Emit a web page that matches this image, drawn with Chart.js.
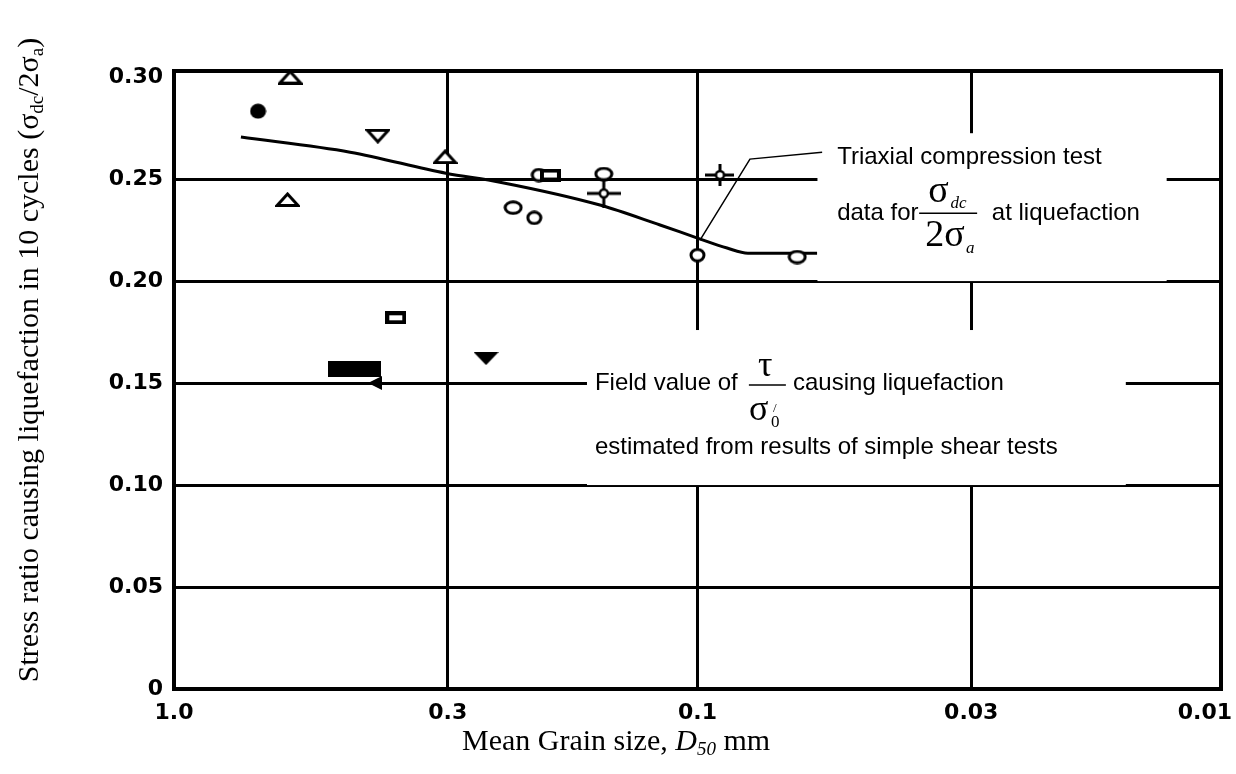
<!DOCTYPE html>
<html>
<head>
<meta charset="utf-8">
<title>Stress ratio causing liquefaction vs mean grain size</title>
<script src="https://cdn.jsdelivr.net/npm/chart.js@4.4.1/dist/chart.umd.min.js"></script>
<style>
  html, body { margin: 0; padding: 0; background: #fff; }
  #chart { display: block; }
</style>
</head>
<body>
<canvas id="chart" width="1236" height="774"></canvas>
<script>
// axis ticks (grain size runs from coarse to fine)
const xTicks = [1.0, 0.3, 0.1, 0.03, 0.01];
const xTickLabels = ['1.0', '0.3', '0.1', '0.03', '0.01'];
const yTicks = [0, 0.05, 0.10, 0.15, 0.20, 0.25, 0.30];
const yTickLabels = ['0', '0.05', '0.10', '0.15', '0.20', '0.25', '0.30'];

// trend curve through the triaxial results
const curveX = [0.745, 0.461, 0.3025, 0.2384, 0.1536, 0.1179, 0.1, 0.0878, 0.0801, 0.0591];
const curveY = [0.2706, 0.2632, 0.2529, 0.2485, 0.2373, 0.2275, 0.2211, 0.2162, 0.2137, 0.2137];

// test results, one pair of arrays per symbol
const dotX = [0.691];
const dotY = [0.2833];
const triUpX = [0.600, 0.607, 0.3035];
const triUpY = [0.300, 0.240, 0.261];
const triDownX = [0.408];
const triDownY = [0.271];
const triDownSolidX = [0.2535];
const triDownSolidY = [0.162];
const squareX = [0.377, 0.191];
const squareY = [0.182, 0.252];
const ringLargeX = [0.225, 0.151, 0.0645];
const ringLargeY = [0.236, 0.2525, 0.2118];
const ringSmallX = [0.205, 0.201, 0.1];
const ringSmallY = [0.231, 0.252, 0.2127];
const crossStemX = [0.151];
const crossStemY = [0.243];
const crossX = [0.0906];
const crossY = [0.252];
// field value from simple shear tests
const fieldX = [0.453];
const fieldY = [0.157];

const pts = (xs, ys) => xs.map((x, i) => ({ x: x, y: ys[i] }));

// small canvases used as point styles
function marker(w, h, paint) {
    const c = document.createElement('canvas');
    c.width = w;
    c.height = h;
    const g = c.getContext('2d');
    g.strokeStyle = '#000';
    g.fillStyle = '#000';
    g.lineWidth = 3;
    g.lineJoin = 'miter';
    paint(g, w, h);
    return c;
}

function openPath(g) {
    g.fillStyle = '#fff';
    g.fill();
    g.stroke();
}

const shapes = {
    dot: marker(17, 16, g => {
        g.beginPath(); g.ellipse(8.5, 8, 8, 7.5, 0, 0, Math.PI * 2); g.fill();
    }),
    triUp: marker(25, 15, g => {
        g.beginPath(); g.moveTo(12.5, 2); g.lineTo(23, 13.5); g.lineTo(2, 13.5); g.closePath(); openPath(g);
    }),
    triDown: marker(25, 15, g => {
        g.beginPath(); g.moveTo(2, 1.5); g.lineTo(23, 1.5); g.lineTo(12.5, 13); g.closePath(); openPath(g);
    }),
    triDownSolid: marker(25, 13, g => {
        g.beginPath(); g.moveTo(0, 0); g.lineTo(25, 0); g.lineTo(12.5, 13); g.closePath(); g.fill();
    }),
    square: marker(21, 13, g => {
        g.lineWidth = 4; g.beginPath(); g.rect(2, 2, 17, 9); openPath(g);
    }),
    ringLarge: marker(20, 15, g => {
        g.beginPath(); g.ellipse(10, 7.5, 8, 5.8, 0, 0, Math.PI * 2); openPath(g);
    }),
    ringSmall: marker(17, 15, g => {
        g.beginPath(); g.ellipse(8.5, 7.5, 6.5, 5.8, 0, 0, Math.PI * 2); openPath(g);
    }),
    crossStem: marker(34, 30, g => {
        g.beginPath(); g.moveTo(0, 15); g.lineTo(34, 15); g.moveTo(17, 0); g.lineTo(17, 30); g.stroke();
        g.lineWidth = 2.5; g.beginPath(); g.arc(17, 15, 4, 0, Math.PI * 2); openPath(g);
    }),
    cross: marker(29, 22, g => {
        g.beginPath(); g.moveTo(0, 11); g.lineTo(29, 11); g.moveTo(14.5, 0); g.lineTo(14.5, 22); g.stroke();
        g.lineWidth = 2.5; g.beginPath(); g.arc(14.5, 11, 4, 0, Math.PI * 2); openPath(g);
    }),
    block: marker(53, 16, g => {
        g.fillRect(0, 0, 53, 16);
    })
};

function markerSet(xs, ys, style) {
    return { data: pts(xs, ys), pointStyle: style, pointRadius: 6, pointHoverRadius: 6, showLine: false, clip: false };
}

// white notes laid over the grid, in data units
const panels = [
    { x0: 0.059, x1: 0.0127, y0: 0.20, y1: 0.2725 },
    { x0: 0.1626, x1: 0.0152, y0: 0.10, y1: 0.176 }
];

const SANS = '"Liberation Sans", Arial, sans-serif';
const SERIF = '"Liberation Serif", "Times New Roman", serif';
const TICK_FONT = 'bold 22px "DejaVu Sans", sans-serif';

function drawRuns(ctx, runs, x, y) {
    let cx = x;
    runs.forEach(r => {
        ctx.font = r.f;
        ctx.fillText(r.t, cx, y + (r.dy || 0));
        cx += ctx.measureText(r.t).width;
    });
    return cx - x;
}

function runsWidth(ctx, runs) {
    return runs.reduce((w, r) => { ctx.font = r.f; return w + ctx.measureText(r.t).width; }, 0);
}

const notes = {
    id: 'notes',
    beforeDatasetsDraw(chart) {
        const { ctx, chartArea: a, scales: { x, y } } = chart;
        ctx.save();
        ctx.fillStyle = '#fff';
        panels.forEach(p => {
            const l = x.getPixelForValue(p.x0), r = x.getPixelForValue(p.x1);
            const t = y.getPixelForValue(p.y1), b = y.getPixelForValue(p.y0);
            ctx.fillRect(l, t, r - l, b - t);
        });
        ctx.strokeStyle = '#000';
        ctx.lineWidth = 4;
        ctx.strokeRect(a.left, a.top, a.right - a.left, a.bottom - a.top);
        ctx.restore();
    },
    afterDatasetsDraw(chart) {
        const { ctx, scales: { x, y } } = chart;
        const px = v => x.getPixelForValue(v);
        const py = v => y.getPixelForValue(v);
        ctx.save();
        ctx.fillStyle = '#000';
        ctx.strokeStyle = '#000';

        // leader to the trend curve
        ctx.lineWidth = 1.5;
        ctx.beginPath();
        ctx.moveTo(px(0.0989), py(0.2201));
        ctx.lineTo(px(0.0794), py(0.2598));
        ctx.lineTo(px(0.0578), py(0.2632));
        ctx.stroke();

        // arrow pointing at the field value
        const ax = px(0.426), ay = py(0.15);
        ctx.beginPath();
        ctx.moveTo(ax, ay);
        ctx.lineTo(ax + 14, ay - 7);
        ctx.lineTo(ax + 14, ay + 7);
        ctx.closePath();
        ctx.fill();

        // triaxial note
        ctx.textBaseline = 'middle';
        ctx.font = '24px ' + SANS;
        const tx = px(0.0541);
        ctx.fillText('Triaxial compression test', tx, py(0.2608));
        ctx.fillText('data for', tx, py(0.2333));
        ctx.fillText('at liquefaction', px(0.0274), py(0.2333));

        const fx = px(0.0335), fy = py(0.2333);
        ctx.lineWidth = 1.5;
        ctx.beginPath(); ctx.moveTo(fx - 27, fy); ctx.lineTo(fx + 31, fy); ctx.stroke();
        ctx.textBaseline = 'alphabetic';
        drawRuns(ctx, [
            { t: 'σ', f: '38px ' + SERIF },
            { t: ' ', f: '8px ' + SERIF },
            { t: 'dc', f: 'italic 17px ' + SERIF, dy: 6 }
        ], fx - 18, fy - 11);
        drawRuns(ctx, [
            { t: '2σ', f: '38px ' + SERIF },
            { t: ' ', f: '6px ' + SERIF },
            { t: 'a', f: 'italic 17px ' + SERIF, dy: 7 }
        ], fx - 21, fy + 33);

        // field value note
        ctx.textBaseline = 'middle';
        ctx.font = '24px ' + SANS;
        const sx = px(0.157);
        ctx.fillText('Field value of', sx, py(0.15));
        ctx.fillText('causing liquefaction', px(0.0657), py(0.15));
        ctx.fillText('estimated from results of simple shear tests', sx, py(0.1186));

        const gx = px(0.0737), gy = py(0.149);
        ctx.lineWidth = 1.5;
        ctx.beginPath(); ctx.moveTo(gx - 18, gy); ctx.lineTo(gx + 19, gy); ctx.stroke();
        ctx.textBaseline = 'alphabetic';
        ctx.font = '36px ' + SERIF;
        ctx.fillText('τ', gx - 9, gy - 9);
        ctx.fillText('σ', gx - 18, gy + 35);
        ctx.font = '17px ' + SERIF;
        ctx.fillText('0', gx + 4, gy + 42);
        ctx.font = '13px ' + SERIF;
        ctx.fillText('/', gx + 6, gy + 27);

        // x tick labels, kept inside the canvas at the right end
        ctx.font = TICK_FONT;
        ctx.textBaseline = 'middle';
        const ly = chart.chartArea.bottom + 24;
        xTicks.forEach((v, i) => {
            const w = ctx.measureText(xTickLabels[i]).width;
            let lx = px(v) - w / 2;
            lx = Math.min(lx, chart.width - 4 - w);
            ctx.fillText(xTickLabels[i], lx, ly);
        });

        // x axis title
        ctx.textBaseline = 'alphabetic';
        drawRuns(ctx, [
            { t: 'Mean Grain size, ', f: '30px ' + SERIF },
            { t: 'D', f: 'italic 30px ' + SERIF },
            { t: '50', f: 'italic 19px ' + SERIF, dy: 5 },
            { t: ' mm', f: '30px ' + SERIF }
        ], 462, 750);

        // y axis title, rotated
        const yRuns = [
            { t: 'Stress ratio causing liquefaction in 10 cycles (σ', f: '30px ' + SERIF },
            { t: 'dc', f: '19px ' + SERIF, dy: 5 },
            { t: '/2σ', f: '30px ' + SERIF },
            { t: 'a', f: '19px ' + SERIF, dy: 5 },
            { t: ')', f: '30px ' + SERIF }
        ];
        const yw = runsWidth(ctx, yRuns);
        ctx.translate(38, 360);
        ctx.rotate(-Math.PI / 2);
        drawRuns(ctx, yRuns, -yw / 2, 0);
        ctx.restore();
    }
};

const ctx = document.getElementById('chart').getContext('2d');
const chart = new Chart(ctx, {
    type: 'scatter',
    data: {
        datasets: [
            markerSet(dotX, dotY, shapes.dot),
            markerSet(triUpX, triUpY, shapes.triUp),
            markerSet(triDownX, triDownY, shapes.triDown),
            markerSet(triDownSolidX, triDownSolidY, shapes.triDownSolid),
            markerSet(squareX, squareY, shapes.square),
            markerSet(ringLargeX, ringLargeY, shapes.ringLarge),
            markerSet(ringSmallX, ringSmallY, shapes.ringSmall),
            markerSet(crossStemX, crossStemY, shapes.crossStem),
            markerSet(crossX, crossY, shapes.cross),
            markerSet(fieldX, fieldY, shapes.block),
            {
                data: pts(curveX, curveY),
                showLine: true,
                borderColor: '#000',
                borderWidth: 3,
                pointRadius: 0,
                pointHoverRadius: 0,
                cubicInterpolationMode: 'monotone',
                fill: false
            }
        ]
    },
    options: {
        responsive: false,
        animation: false,
        devicePixelRatio: 1,
        layout: { padding: { left: 0, top: 71, right: 15, bottom: 0 } },
        plugins: {
            legend: { display: false },
            tooltip: { enabled: false }
        },
        scales: {
            x: {
                type: 'logarithmic',
                reverse: true,
                min: 0.01,
                max: 1.0,
                afterBuildTicks: s => { s.ticks = xTicks.map(v => ({ value: v })); },
                afterFit: s => { s.height = 85; s.paddingLeft = 0; s.paddingRight = 0; },
                border: { display: false },
                grid: { color: '#000', lineWidth: 3, drawTicks: false },
                ticks: { display: false }
            },
            y: {
                min: 0,
                max: 0.303,
                afterBuildTicks: s => { s.ticks = yTicks.map(v => ({ value: v })); },
                afterFit: s => { s.width = 174; s.paddingTop = 0; s.paddingBottom = 0; },
                border: { display: false },
                grid: {
                    color: c => (c.tick && c.tick.value >= 0.3 ? 'rgba(0,0,0,0)' : '#000'),
                    lineWidth: 3,
                    drawTicks: false
                },
                ticks: {
                    padding: 11,
                    color: '#000',
                    font: { family: 'DejaVu Sans', weight: 'bold', size: 22 },
                    callback: v => yTickLabels[yTicks.indexOf(v)]
                }
            }
        }
    },
    plugins: [notes]
});
</script>
</body>
</html>
